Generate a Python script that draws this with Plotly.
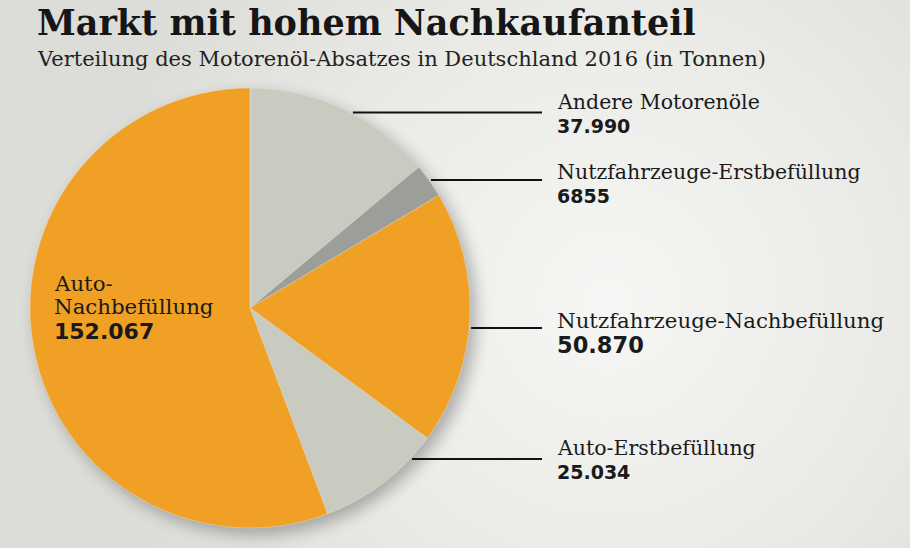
import math
import urllib.parse
import plotly.graph_objects as go

W, H = 910, 548

# ---- data ----
categories = ["Andere Motorenöle", "Nutzfahrzeuge-Erstbefüllung",
              "Nutzfahrzeuge-Nachbefüllung", "Auto-Erstbefüllung",
              "Auto-Nachbefüllung"]
values = [37990, 6855, 50870, 25034, 152067]
value_labels = ["37.990", "6855", "50.870", "25.034", "152.067"]
colors = ["#C9CAC0", "#9C9E99", "#F0A024", "#C9CAC0", "#F0A024"]
emphasized = [False, False, True, False, True]

title = "Markt mit hohem Nachkaufanteil"
subtitle = "Verteilung des Motorenöl-Absatzes in Deutschland 2016 (in Tonnen)"

# ---- layout geometry (pixels) ----
CX, CY, R = 250, 308, 220
label_x = 555
line_end_x = 542
# (name y, value y, leader y) for the four right-hand labels
right_pos = [(102, 126, 112.5), (172, 196, 180), (320, 345, 328), (448, 471.5, 459)]


def px(x):
    return x / W


def py(y):
    return 1 - y / H


bg_svg = f"""<svg xmlns='http://www.w3.org/2000/svg' width='{W}' height='{H}'>
<defs>
<radialGradient id='g' cx='610' cy='300' r='520' gradientUnits='userSpaceOnUse'>
<stop offset='0' stop-color='#f6f6f4'/><stop offset='0.55' stop-color='#eaeae7'/><stop offset='1' stop-color='#dcdcd8'/>
</radialGradient>
<filter id='b' x='-20%' y='-20%' width='140%' height='140%'><feGaussianBlur stdDeviation='8'/></filter>
</defs>
<rect width='{W}' height='{H}' fill='url(#g)'/>
<circle cx='{CX+6}' cy='{CY+7}' r='{R}' fill='#000' opacity='0.28' filter='url(#b)'/>
</svg>"""
bg_uri = "data:image/svg+xml;charset=utf-8," + urllib.parse.quote(bg_svg)

fig = go.Figure(go.Pie(
    labels=categories,
    values=values,
    sort=False,
    direction="clockwise",
    rotation=0,
    marker=dict(colors=colors, line=dict(color="rgba(235,235,230,0.6)", width=0.6)),
    textinfo="none",
    hoverinfo="label+value",
    showlegend=False,
    domain=dict(x=[px(CX - R), px(CX + R)], y=[py(CY + R), py(CY - R)]),
))

annotations = []
shapes = []

annotations.append(dict(text=title, x=px(35), y=py(22), xref="paper", yref="paper",
                        xanchor="left", yanchor="middle", showarrow=False,
                        font=dict(family="DejaVu Serif", size=35, color="#161616", weight="bold")))
annotations.append(dict(text=subtitle, x=px(35), y=py(59), xref="paper", yref="paper",
                        xanchor="left", yanchor="middle", showarrow=False,
                        font=dict(family="DejaVu Serif", size=21, color="#222222")))


def name_font(big):
    return dict(family="DejaVu Serif", size=21.3 if big else 20.5, color="#1a1a1a")


def val_font(big):
    return dict(family="DejaVu Sans", size=22.5 if big else 19, color="#1a1a1a", weight="bold")


for i in range(4):
    ny, vy, ly = right_pos[i]
    big = emphasized[i]
    annotations.append(dict(text=categories[i], x=px(label_x), y=py(ny), xref="paper", yref="paper",
                            xanchor="left", yanchor="middle", showarrow=False, font=name_font(big)))
    annotations.append(dict(text=value_labels[i], x=px(label_x), y=py(vy), xref="paper", yref="paper",
                            xanchor="left", yanchor="middle", showarrow=False, font=val_font(big)))
    # leader line starts on the pie rim at height ly
    dx = math.sqrt(max(R * R - (ly - CY) ** 2, 0))
    shapes.append(dict(type="line", xref="paper", yref="paper",
                       x0=px(CX + dx + 2), x1=px(line_end_x), y0=py(ly), y1=py(ly),
                       line=dict(color="#111111", width=2)))

# inside label for Auto-Nachbefüllung
annotations.append(dict(text="Auto-", x=px(52), y=py(283), xref="paper", yref="paper",
                        xanchor="left", yanchor="middle", showarrow=False, font=name_font(True)))
annotations.append(dict(text="Nachbefüllung", x=px(52), y=py(306), xref="paper", yref="paper",
                        xanchor="left", yanchor="middle", showarrow=False, font=name_font(True)))
annotations.append(dict(text=value_labels[4], x=px(52), y=py(331), xref="paper", yref="paper",
                        xanchor="left", yanchor="middle", showarrow=False,
                        font=dict(family="DejaVu Sans", size=22, color="#1a1a1a", weight="bold")))

fig.update_layout(
    width=W, height=H,
    margin=dict(l=0, r=0, t=0, b=0),
    paper_bgcolor="#e2e2df",
    plot_bgcolor="rgba(0,0,0,0)",
    annotations=annotations,
    shapes=shapes,
    images=[dict(source=bg_uri, xref="paper", yref="paper", x=0, y=1, sizex=1, sizey=1,
                 xanchor="left", yanchor="top", sizing="stretch", layer="below")],
)

fig.write_html("out.html")
